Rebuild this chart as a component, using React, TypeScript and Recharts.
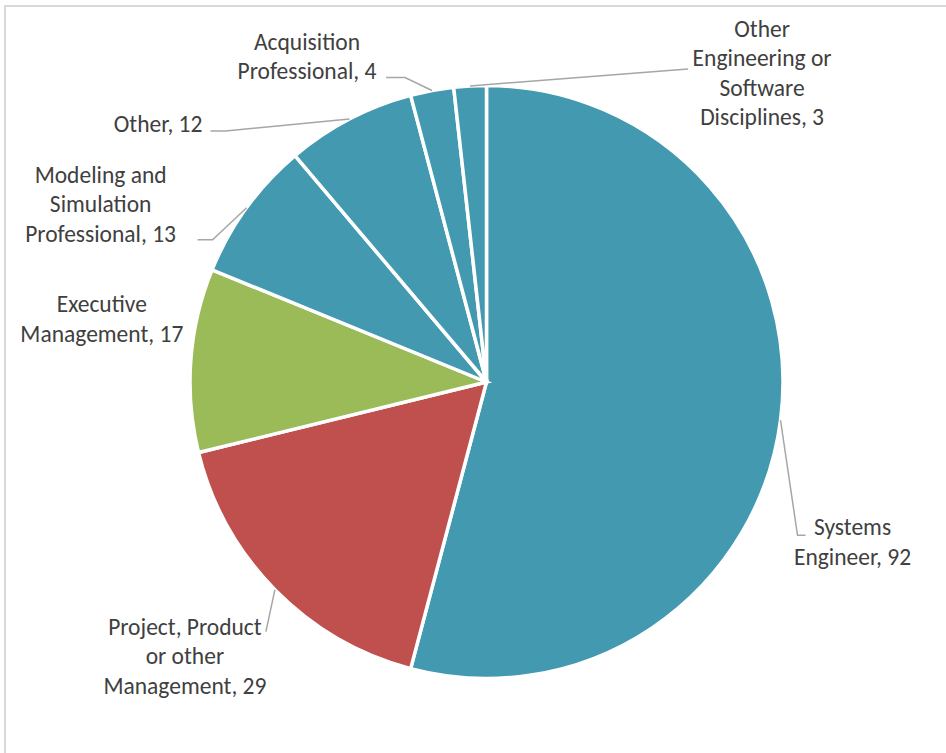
import React from "react";
import {Cell, Pie, PieChart} from "recharts";

const categories = [
    "Systems Engineer",
    "Project, Product or other Management",
    "Executive Management",
    "Modeling and Simulation Professional",
    "Other",
    "Acquisition Professional",
    "Other Engineering or Software Disciplines",
];
const counts = [92, 29, 17, 13, 12, 4, 3];
// how each label wraps in the picture (value is appended to the last line)
const labelWraps = [
    ["Systems", "Engineer"],
    ["Project, Product", "or other", "Management"],
    ["Executive", "Management"],
    ["Modeling and", "Simulation", "Professional"],
    ["Other"],
    ["Acquisition", "Professional"],
    ["Other", "Engineering or", "Software", "Disciplines"],
];
const sliceColors = ["#4299B0", "#C0504D", "#9BBB59", "#4299B0", "#4299B0", "#4299B0", "#4299B0"];

const data = categories.map((name, i) => ({name, value: counts[i]}));

// label placement relative to the slice's outer edge point
type Place = { elbow: [number, number] | null; leg: number; text: [number, number]; anchor: "start" | "middle" | "end" };
const placement: Place[] = [
    {elbow: [17, 115], leg: 8, text: [72, 107], anchor: "middle"},
    {elbow: [-9, 42], leg: 0, text: [-90, 37], anchor: "middle"},
    {elbow: null, leg: 0, text: [-89, -56], anchor: "middle"},
    {elbow: [-34, 32], leg: -15, text: [-146, -33], anchor: "middle"},
    {elbow: [-124, 12], leg: -15, text: [-147, 5], anchor: "end"},
    {elbow: [-27, -13], leg: -19, text: [-125, -49], anchor: "middle"},
    {elbow: [218, -17], leg: 0, text: [292, -57], anchor: "middle"},
];

const RADIAN = Math.PI / 180;
const LINE_H = 29.5;

const renderLabel = (props: any) => {
    const {cx, cy, midAngle, outerRadius, index, value} = props;
    const ex = cx + outerRadius * Math.cos(-midAngle * RADIAN);
    const ey = cy + outerRadius * Math.sin(-midAngle * RADIAN);
    const p = placement[index];
    const lines = labelWraps[index].slice();
    lines[lines.length - 1] = `${lines[lines.length - 1]}, ${value}`;
    const tx = ex + p.text[0];
    const ty = ey + p.text[1];
    let line = null;
    if (p.elbow) {
        const bx = ex + p.elbow[0], by = ey + p.elbow[1];
        line = <polyline points={`${ex},${ey} ${bx},${by} ${bx + p.leg},${by}`}
                         fill="none" stroke="#A6A6A6" strokeWidth={1.5}/>;
    }
    return <g key={`lbl-${index}`}>
        {line}
        <text x={tx} y={ty} textAnchor={p.anchor} fill="#404040" fontSize={23.5}
              fontFamily="Calibri, Carlito, Lato, sans-serif">
            {lines.map((l, k) => <tspan key={k} x={tx} y={ty + k * LINE_H} dominantBaseline="central">{l}</tspan>)}
        </text>
    </g>;
};

export default function App() {
    return <div style={{position: "absolute", left: 0, top: 0, width: 946, height: 753, overflow: "hidden", background: "#fff"}}>
        <div style={{position: "absolute", left: 4, top: 5, width: 942, height: 748, boxSizing: "border-box",
            borderLeft: "2px solid #D9D9D9", borderTop: "2px solid #D9D9D9"}}/>
        <div style={{position: "absolute", left: 0, top: 0}}>
            <PieChart width={946} height={753} margin={{top: 0, right: 0, bottom: 0, left: 0}}>
                <Pie data={data} dataKey="value" nameKey="name" cx={486.5} cy={382} outerRadius={296.5}
                     startAngle={90} endAngle={-270} stroke="#FFFFFF" strokeWidth={3.5}
                     label={renderLabel} labelLine={false} isAnimationActive={false}>
                    {data.map((d, i) => <Cell key={d.name} fill={sliceColors[i]}/>)}
                </Pie>
            </PieChart>
        </div>
    </div>;
}
